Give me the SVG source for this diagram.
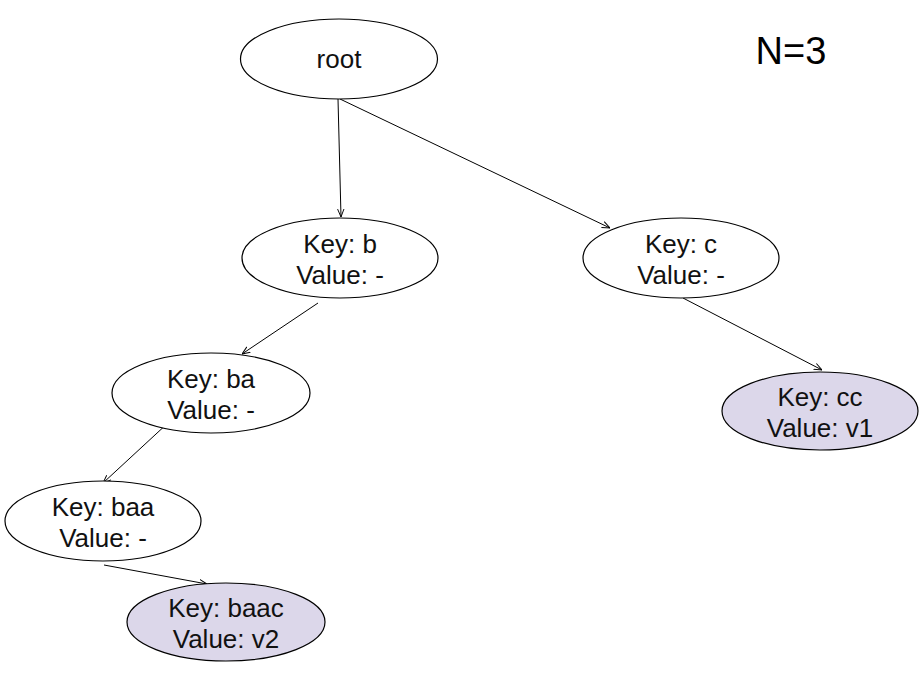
<svg xmlns="http://www.w3.org/2000/svg" width="921" height="687" viewBox="0 0 921 687">
<style>
.n{fill:#fff;stroke:#000;stroke-width:1.2}
.leaf{fill:#dcd7ea;stroke:#000;stroke-width:1.2}
.t{font-family:"Liberation Sans",Arial,sans-serif;font-size:26px;fill:#111;text-anchor:middle}
.e{stroke:#000;stroke-width:1;fill:none;marker-end:url(#a)}
</style>
<defs>
<marker id="a" viewBox="0 0 10 10" refX="10" refY="5" markerWidth="8" markerHeight="8" markerUnits="userSpaceOnUse" orient="auto">
<path d="M0,1 L10,5 L0,9" fill="none" stroke="#000" stroke-width="1.2"/>
</marker>
</defs>
<rect width="921" height="687" fill="#fff"/>
<g id="connectors">
<line class="e" x1="338" y1="99" x2="341" y2="217"/>
<line class="e" x1="340" y1="99" x2="610" y2="228"/>
<line class="e" x1="318" y1="303" x2="242" y2="354"/>
<line class="e" x1="169" y1="422" x2="103" y2="483"/>
<line class="e" x1="683" y1="298" x2="822" y2="370"/>
<line class="e" x1="104" y1="565" x2="207" y2="584"/>
</g>
<g id="root"><ellipse class="n" cx="339" cy="59" rx="98.5" ry="40"/><text class="t" x="339" y="68">root</text></g>
<g id="node-b"><ellipse class="n" cx="340" cy="258" rx="98" ry="40"/><text class="t" x="340" y="253">Key: b</text><text class="t" x="340" y="284">Value: -</text></g>
<g id="node-c"><ellipse class="n" cx="681" cy="258" rx="98" ry="40"/><text class="t" x="681" y="253">Key: c</text><text class="t" x="681" y="284">Value: -</text></g>
<g id="node-ba"><ellipse class="n" cx="211" cy="393" rx="99" ry="40"/><text class="t" x="211" y="388">Key: ba</text><text class="t" x="211" y="419">Value: -</text></g>
<g id="node-cc"><ellipse class="leaf" cx="820" cy="411" rx="98" ry="39"/><text class="t" x="820" y="406">Key: cc</text><text class="t" x="820" y="437">Value: v1</text></g>
<g id="node-baa"><ellipse class="n" cx="103" cy="521" rx="98" ry="40"/><text class="t" x="103" y="516">Key: baa</text><text class="t" x="103" y="547">Value: -</text></g>
<g id="node-baac"><ellipse class="leaf" cx="226" cy="622" rx="99" ry="39"/><text class="t" x="226" y="617">Key: baac</text><text class="t" x="226" y="648">Value: v2</text></g>
<text x="791" y="64" font-family="Liberation Sans,Arial,sans-serif" font-size="38" text-anchor="middle" fill="#000">N=3</text>
</svg>
